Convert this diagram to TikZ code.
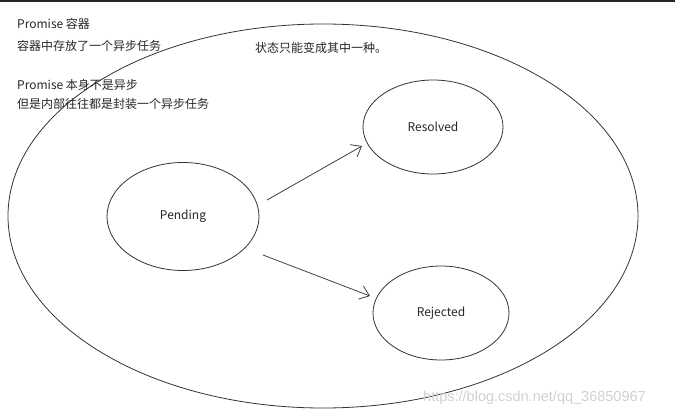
\documentclass[tikz,border=0pt]{standalone}
\usepackage{fontspec}
\setmainfont{Noto Sans CJK SC}
\newfontfamily\wmfont{Liberation Sans}
\usetikzlibrary{arrows.meta,shapes.geometric}
\begin{document}
\begin{tikzpicture}[x=1pt,y=-1pt,
  shape line/.style={draw=black!80,line width=0.8pt},
  txt/.style={font=\fontsize{12}{14}\selectfont,inner sep=0pt,anchor=west,text=black!85},
  lbl/.style={font=\fontsize{12}{14}\selectfont,text=black!85},
  arr/.style={draw=black!75,line width=0.8pt,-{Straight Barb[length=9pt,width=14pt,line width=0.8pt]}}]
\useasboundingbox (0,0) rectangle (675,418);
\fill[black!85] (0,0) rectangle (675,1.5);
% outer container
\draw[shape line] (323,216) ellipse [x radius=315, y radius=192];
% state ellipses
\node[shape line,ellipse,inner sep=0pt,minimum width=152pt,minimum height=108pt,lbl] (pending) at (183,216.5) {Pending};
\node[shape line,ellipse,inner sep=0pt,minimum width=140pt,minimum height=94pt,lbl] (resolved) at (433,127) {Resolved};
\node[shape line,ellipse,inner sep=0pt,minimum width=136pt,minimum height=94pt,lbl] (rejected) at (441,313) {Rejected};
\coordinate (a1s) at (267,200);
\coordinate (a1e) at (362,146);
\coordinate (a2s) at (263,255);
\coordinate (a2e) at (370,296);
\draw[arr] (a1s) -- (a1e);
\draw[arr] (a2s) -- (a2e);
% texts
\node[txt] (t1) at (17,24) {Promise 容器};
\node[txt] (t2) at (17,46) {容器中存放了一个异步任务};
\node[txt] (t3) at (17,85) {Promise 本身不是异步};
\node[txt] (t4) at (17,104) {但是内部往往都是封装一个异步任务};
\node[txt] (t5) at (255,48) {状态只能变成其中一种。};
\node[txt,text=black!18,font=\wmfont\fontsize{14.5}{16}\selectfont] (wm) at (423,398) {https://blog.csdn.net/qq\_36850967};
\end{tikzpicture}
\end{document}
